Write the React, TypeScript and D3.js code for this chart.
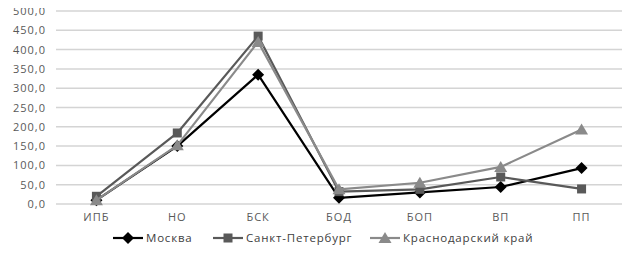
import { useEffect, useRef } from 'react'
import * as d3 from 'd3'

const categories = ['ИПБ', 'НО', 'БСК', 'БОД', 'БОП', 'ВП', 'ПП']
const moscow = [10, 150, 335, 16, 30, 44, 93]
const spb = [20, 184, 435, 32, 38, 70, 39]
const krasnodar = [10, 152, 420, 38, 55, 96, 193]
const yTicks = [0, 50, 100, 150, 200, 250, 300, 350, 400, 450, 500]

const seriesList = [
  { name: 'Москва', values: moscow, color: '#000000', marker: 'diamond' },
  { name: 'Санкт-Петербург', values: spb, color: '#595959', marker: 'square' },
  { name: 'Краснодарский край', values: krasnodar, color: '#8a8a8a', marker: 'triangle' },
]

const W = 638
const H = 253

function drawMarker(g, kind, x, y, color) {
  if (kind === 'diamond') {
    g.append('path')
      .attr('d', `M${x},${y - 6}L${x + 6},${y}L${x},${y + 6}L${x - 6},${y}Z`)
      .attr('fill', color)
  } else if (kind === 'square') {
    g.append('rect')
      .attr('x', x - 4.5)
      .attr('y', y - 4.5)
      .attr('width', 9)
      .attr('height', 9)
      .attr('fill', color)
  } else {
    g.append('path')
      .attr('d', `M${x},${y - 6}L${x + 6.5},${y + 5}L${x - 6.5},${y + 5}Z`)
      .attr('fill', color)
  }
}

function App() {
  const ref = useRef(null)

  useEffect(() => {
    const svg = d3.select(ref.current)
    svg.selectAll('*').remove()

    const x = d3.scaleBand().domain(categories).range([56, 622])
    const y = d3.scaleLinear().domain([0, 500]).range([204, 11])
    const cx = (c) => x(c) + x.bandwidth() / 2
    const font = '"Open Sans", sans-serif'

    svg.append('rect')
      .attr('x', 0.5).attr('y', 0.5)
      .attr('width', 636).attr('height', 250)
      .attr('fill', '#fff')
      .attr('stroke', '#8c8c8c')

    svg.append('g')
      .selectAll('line')
      .data(yTicks)
      .join('line')
      .attr('x1', 56).attr('x2', 622)
      .attr('y1', (d) => y(d)).attr('y2', (d) => y(d))
      .attr('stroke', '#d4d4d4')
      .attr('stroke-width', 1.5)

    svg.append('g')
      .selectAll('text')
      .data(yTicks)
      .join('text')
      .attr('x', 46)
      .attr('y', (d) => y(d) + 4)
      .attr('text-anchor', 'end')
      .attr('font-family', font)
      .attr('font-size', 11)
      .attr('letter-spacing', 1)
      .attr('fill', '#595959')
      .text((d) => d3.format('.1f')(d).replace('.', ','))

    svg.append('g')
      .selectAll('text')
      .data(categories)
      .join('text')
      .attr('x', (d) => cx(d))
      .attr('y', 221)
      .attr('text-anchor', 'middle')
      .attr('font-family', font)
      .attr('font-size', 11)
      .attr('letter-spacing', 1)
      .attr('fill', '#595959')
      .text((d) => d)

    const line = d3.line().x((d, i) => cx(categories[i])).y((d) => y(d))

    seriesList.forEach((s) => {
      const g = svg.append('g')
      g.append('path')
        .attr('d', line(s.values))
        .attr('fill', 'none')
        .attr('stroke', s.color)
        .attr('stroke-width', 2.2)
        .attr('stroke-linejoin', 'round')
      s.values.forEach((v, i) => drawMarker(g, s.marker, cx(categories[i]), y(v), s.color))
    })

    const legendX = [113, 213, 370]
    seriesList.forEach((s, i) => {
      const g = svg.append('g')
      const lx = legendX[i]
      g.append('line')
        .attr('x1', lx).attr('x2', lx + 30)
        .attr('y1', 238).attr('y2', 238)
        .attr('stroke', s.color)
        .attr('stroke-width', 2.2)
      drawMarker(g, s.marker, lx + 15, 238, s.color)
      g.append('text')
        .attr('x', lx + 33)
        .attr('y', 242)
        .attr('font-family', font)
        .attr('font-size', 11.5)
        .attr('letter-spacing', 0.8)
        .attr('fill', '#404040')
        .text(s.name)
    })
  }, [])

  return (
    <div style={{ margin: -8 }}>
      <svg ref={ref} width={W} height={H} style={{ display: 'block' }} />
    </div>
  )
}

export default App
